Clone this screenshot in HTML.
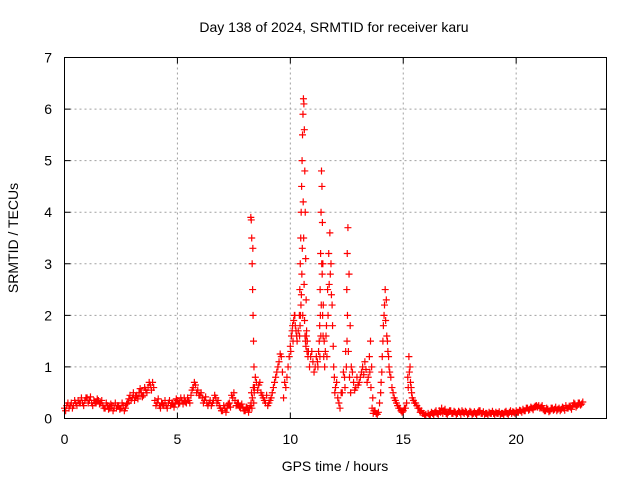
<!DOCTYPE html>
<html><head><meta charset="utf-8"><style>
body{margin:0;background:#fff;}
svg text{font-family:"Liberation Sans",sans-serif;font-size:14px;fill:#000;}
</style></head><body>
<svg id="chart" width="640" height="480" xmlns="http://www.w3.org/2000/svg">
<rect width="640" height="480" fill="#fff"/>
<text x="334" y="32" text-anchor="middle">Day 138 of 2024, SRMTID for receiver karu</text>
<text transform="translate(18,238) rotate(-90)" text-anchor="middle">SRMTID / TECUs</text>
<text x="335" y="471" text-anchor="middle">GPS time / hours</text>
<g id="grid"></g>
<g id="ticks"></g>
<g id="pts"></g>
<rect x="64.5" y="57.5" width="542" height="361" fill="none" stroke="#000" stroke-width="1"/>
</svg>
<script>
const xTicks=[0,5,10,15,20];
const yTicks=[0,1,2,3,4,5,6,7];
const baseA=[0.2,0.25,0.2,0.3,0.25,0.3,0.35,0.3,0.3,0.35,
0.4,0.35,0.3,0.35,0.3,0.35,0.3,0.25,0.2,0.25,
0.2,0.25,0.2,0.2,0.25,0.2,0.25,0.2,0.3,0.45,
0.4,0.35,0.45,0.5,0.5,0.45,0.55,0.6,0.65,0.7,
0.35,0.3,0.25,0.3,0.25,0.25,0.3,0.25,0.3,0.3,
0.35,0.3,0.35,0.4,0.3,0.35,0.45,0.6,0.65,0.55,
0.45,0.4,0.35,0.3,0.3,0.25,0.35,0.4,0.35,0.2,
0.15,0.2,0.2,0.3,0.45,0.5,0.25,0.3,0.2,0.2,
0.15,0.2,0.2];
const baseA2=[0.15,0.3,0.25,0.2,0.35,0.25,0.3,0.4,0.25,0.4,
0.3,0.42,0.25,0.3,0.38,0.28,0.35,0.2,0.3,0.18,
0.28,0.15,0.3,0.25,0.18,0.3,0.15,0.28,0.38,0.35,
0.5,0.42,0.38,0.58,0.42,0.6,0.5,0.7,0.55,0.6,
0.25,0.38,0.2,0.28,0.35,0.2,0.35,0.3,0.22,0.38,
0.28,0.4,0.28,0.32,0.4,0.3,0.55,0.7,0.5,0.45,
0.5,0.3,0.42,0.25,0.35,0.3,0.45,0.3,0.25,0.15,
0.25,0.12,0.28,0.22,0.4,0.35,0.3,0.22,0.28,0.15,
0.22,0.12,0.25];
const midT=[8.25,8.27,8.29,8.31,8.33,8.35,8.37,8.39,8.41,8.5,8.6,8.7,8.8,8.9,9.0,9.1,9.2,9.3,9.4,9.5,9.6,9.7,9.8,9.9,10.0,10.05,10.1,10.15,10.2,10.25,10.3,
10.4,10.42,10.44,10.46,10.48,10.5,10.52,10.54,10.56,10.58,10.6,10.62,10.64,10.66,10.68,10.7,10.72,10.75,10.8,10.9,11.0,11.1,11.2,11.25,11.3,11.32,11.34,11.36,11.38,11.4,11.42,11.44,11.46,11.5,11.55,11.6,11.65,11.7,11.75,11.8,11.85,11.9,11.95,12.0,12.1,12.2,12.3,12.4,12.45,12.5,12.52,12.55,12.6,12.65,12.7,12.8,12.9,13.0,13.1,13.2,13.3,13.4,13.5,13.55,13.6,13.65,13.7,13.8,13.9,14.0,14.05,14.1,14.15,14.2,14.25,14.3,14.35,14.4,14.5,14.6,14.7,14.8,14.9,15.0,15.1,15.2,15.25,15.3,15.35,15.4,15.5,15.6,15.7,15.8,15.9,16.0];
const midV=[3.9,3.85,3.5,3.0,2.5,2.0,1.5,1.0,0.6,0.7,0.65,0.5,0.4,0.3,0.25,0.35,0.5,0.7,0.9,1.1,1.2,0.4,0.6,1.0,1.4,1.6,1.8,1.9,2.0,1.7,1.5,
2.0,2.5,3.0,3.5,4.0,4.5,5.0,5.5,5.9,6.2,6.1,5.6,4.8,4.0,3.1,2.3,1.7,1.5,1.3,1.2,1.1,1.0,1.1,1.3,1.8,2.5,3.2,4.0,4.8,4.5,3.8,3.0,2.2,1.5,1.3,1.8,2.5,3.2,3.6,3.0,2.2,1.4,0.8,0.6,0.4,0.2,0.5,0.8,1.3,2.5,3.2,3.7,2.8,1.8,1.0,0.7,0.6,0.65,0.8,1.0,1.1,0.7,1.2,1.5,1.0,0.4,0.15,0.1,0.12,0.5,0.9,1.5,2.0,2.5,2.3,1.5,1.2,0.9,0.6,0.4,0.3,0.2,0.15,0.15,0.2,0.8,1.2,1.0,0.6,0.4,0.3,0.25,0.2,0.15,0.1,0.08];
const mid2T=[8.26,8.28,8.3,8.32,8.34,8.36,8.38,8.4,8.45,8.55,8.65,8.75,8.85,8.95,9.05,9.15,9.25,9.35,9.45,9.55,9.65,9.75,9.85,9.95,10.02,10.08,10.12,10.18,10.22,10.28,10.35,
10.41,10.43,10.45,10.47,10.49,10.51,10.53,10.55,10.57,10.59,10.61,10.63,10.65,10.67,10.69,10.71,10.74,10.78,10.85,10.95,11.05,11.15,11.22,11.28,11.31,11.33,11.35,11.37,11.39,11.41,11.43,11.45,11.48,11.52,11.58,11.62,11.67,11.72,11.77,11.82,11.87,11.92,11.97,12.05,12.15,12.25,12.35,12.42,12.48,12.51,12.53,12.57,12.62,12.67,12.75,12.85,12.95,13.05,13.15,13.25,13.35,13.45,13.52,13.57,13.62,13.67,13.75,13.85,13.95,14.02,14.07,14.12,14.17,14.22,14.27,14.32,14.37,14.45,14.55,14.65,14.75,14.85,14.95,15.05,15.15,15.22,15.27,15.32,15.37,15.45,15.55,15.65,15.75,15.85,15.95];
const mid2V=[0.3,0.5,0.2,0.4,3.3,0.6,0.3,0.5,0.8,0.55,0.7,0.45,0.35,0.45,0.3,0.4,0.6,0.8,1.0,1.25,0.9,0.7,0.8,1.2,1.3,1.7,1.5,2.0,1.8,1.6,1.7,
1.6,1.8,2.0,2.2,2.4,2.8,3.3,2.0,4.2,3.5,2.6,1.9,1.6,1.5,1.4,1.6,1.3,1.2,1.0,1.3,0.9,1.2,1.0,1.5,1.2,2.0,1.6,2.2,3.0,2.8,2.0,1.6,1.2,1.0,1.6,1.2,2.0,2.6,2.8,2.4,1.8,1.0,0.5,0.7,0.3,0.5,0.9,0.6,1.0,1.5,2.0,1.3,0.8,0.5,0.9,0.55,0.8,0.7,0.9,0.85,0.95,0.8,0.9,0.6,0.2,0.1,0.15,0.08,0.3,0.7,1.2,1.8,2.2,1.9,1.6,1.3,1.0,0.8,0.5,0.35,0.25,0.2,0.12,0.2,0.3,0.6,0.9,0.7,0.5,0.35,0.3,0.2,0.12,0.1,0.06];
const baseB=[0.1,0.08,0.1,0.12,0.1,0.15,0.2,0.15,0.1,
0.12,0.15,0.1,0.12,0.1,0.12,0.15,0.1,0.12,0.1,
0.12,0.1,0.1,0.12,0.15,0.1,0.08,0.1,0.12,0.1,
0.1,0.12,0.1,0.08,0.1,0.12,0.1,0.12,0.1,0.12,
0.15,0.12,0.15,0.18,0.15,0.2,0.18,0.2,0.22,0.25,
0.25,0.22,0.18,0.15,0.18,0.15,0.2,0.18,0.15,0.2,
0.18,0.2,0.25,0.2,0.22,0.25,0.28,0.25,0.3,0.28];
const baseB2=[0.06,0.12,0.07,0.15,0.08,0.12,0.1,0.18,0.08,
0.15,0.1,0.14,0.08,0.14,0.08,0.12,0.14,0.08,0.14,
0.08,0.13,0.07,0.15,0.1,0.13,0.1,0.07,0.1,0.14,
0.08,0.1,0.13,0.1,0.07,0.14,0.08,0.15,0.13,0.1,
0.12,0.16,0.12,0.15,0.2,0.16,0.22,0.17,0.24,0.22,
0.2,0.25,0.15,0.2,0.13,0.2,0.16,0.22,0.18,0.15,
0.22,0.16,0.2,0.24,0.18,0.3,0.22,0.3,0.26,0.32];
const baseAStart=0, baseBStart=16.1, baseStep=0.1;

const X0=64.5,X1=606.5,Y0=418.5,Y1=57.5,XMAX=24,YMAX=7;
const xs=v=>X0+(X1-X0)*v/XMAX;
const ys=v=>Y0-(Y0-Y1)*v/YMAX;
const NS='http://www.w3.org/2000/svg';
const grid=document.getElementById('grid'),ticks=document.getElementById('ticks'),pts=document.getElementById('pts');
function mk(tag,at,parent){const e=document.createElementNS(NS,tag);for(const k in at)e.setAttribute(k,at[k]);parent.appendChild(e);return e;}
xTicks.forEach(t=>{
  const x=xs(t);
  if(t>0){const g=mk('line',{x1:x,x2:x,y1:Y1,y2:Y0,stroke:'#a0a0a0','stroke-dasharray':'2,3'},grid);
  
  }
  const tk=mk('path',{d:`M${x},${Y0}v-6M${x},${Y1}v6`,stroke:'#000'},ticks);
  
  
  const l=mk('text',{x:x,y:444,'text-anchor':'middle'},ticks);l.textContent=t;
  
  
});
yTicks.forEach(t=>{
  const y=ys(t);
  if(t>0&&t<7){const g=mk('line',{x1:X0,x2:X1,y1:y,y2:y,stroke:'#a0a0a0','stroke-dasharray':'2,3'},grid);
  
  }
  const tk=mk('path',{d:`M${X0},${y}h6M${X1},${y}h-6`,stroke:'#000'},ticks);
  
  
  const l=mk('text',{x:52,y:y+5,'text-anchor':'end'},ticks);l.textContent=t;
  
  
});
const T=[],V=[];
baseA.forEach((v,i)=>{T.push(baseAStart+i*baseStep);V.push(v);});
baseA2.forEach((v,i)=>{T.push(baseAStart+(i+0.5)*baseStep);V.push(v);});
midT.forEach((t,i)=>{T.push(t);V.push(midV[i]);});
mid2T.forEach((t,i)=>{T.push(t);V.push(mid2V[i]);});
baseB.forEach((v,i)=>{T.push(baseBStart+i*baseStep);V.push(v);});
baseB2.forEach((v,i)=>{T.push(baseBStart+(i+0.5)*baseStep);V.push(v);});
let d='';
T.forEach((t,i)=>{const x=xs(t),y=ys(V[i]);d+=`M${x-3.5},${y}h7M${x},${y-3.5}v7`;});
const p=mk('path',{d:d,stroke:'#ff0000','stroke-width':1.2,fill:'none'},pts);


</script>
</body></html>
